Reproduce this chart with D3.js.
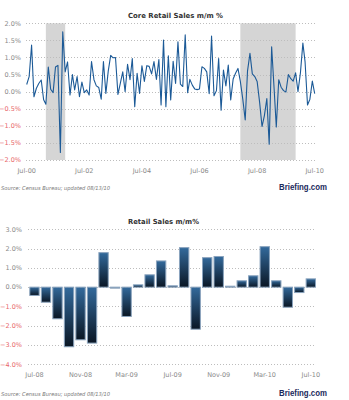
<!DOCTYPE html>
<html>
<head>
<meta charset="utf-8">
<script src="https://cdn.jsdelivr.net/npm/d3@7"></script>
<style>
	body { margin: 0; background: #fff; }
	svg { display: block; }
	.grid line { stroke: #bdbdbd; stroke-dasharray: 1,2; }
	.lbl { font-family: "DejaVu Sans", sans-serif; font-size: 6.5px; fill: #8a8a8a; }
	.neg { fill: #e8666a; }
	.title { font-family: "DejaVu Sans", sans-serif; font-size: 7px; font-weight: bold; fill: #333; }
	.src { font-family: "DejaVu Sans", sans-serif; font-size: 5.4px; font-style: italic; fill: #777; }
	.logo { font-family: "Liberation Sans", sans-serif; font-size: 9px; font-weight: bold; fill: #1b2a5c; }
</style>
</head>
<body>
<div id="chart"></div>
<script>
// core retail sales m/m %, monthly from Jul-00 to Jul-10
var coreStart = "2000-07";
var coreValues = [
	0.21, 0.44, 1.36, -0.15, 0.10, 0.24, 0.34, -0.24, -0.37, 0.72,
	0.07, -0.03, 0.72, 0.77, -1.78, 1.75, 0.58, 0.87, -0.10, 0.50,
	0.05, 0.44, -0.15, 0.28, -0.03, 0.05, -0.10, 0.88, 0.35, 0.17,
	0.12, -0.22, 0.88, -0.05, 0.60, 1.06, 0.99, 1.00, -0.08, 0.24,
	0.58, 0.00, 0.80, 0.35, 0.97, -0.44, 0.54, -0.05, 0.76, 0.30,
	0.76, 0.74, 0.52, 0.88, 0.36, 0.94, -0.39, 1.51, -0.44, 1.05,
	-0.24, 0.89, 0.24, 1.46, 0.22, 0.15, 1.66, -0.03, 0.36, 0.19,
	0.08, 0.06, 0.08, 0.73, 0.68, 0.58, -0.06, 1.63, -0.12, 0.03,
	0.97, -0.54, 0.63, 0.17, 0.78, -0.24, 0.37, 0.54, 0.68, 0.30,
	-0.22, -0.83, 0.60, 1.12, 0.52, 0.44, 0.30, -0.30, -1.02, -0.70,
	-0.20, -1.54, 1.31, 0.10, -1.03, 0.35, 0.13, 0.03, -0.01, 0.50,
	0.38, 0.31, 0.55, 0.00, 0.55, 1.42, 0.87, -0.39, -0.22, 0.31,
	-0.06
];
var recessions = [["2001-03", "2001-11"], ["2007-12", "2009-11"]];
var coreXTicks = ["Jul-00", "Jul-02", "Jul-04", "Jul-06", "Jul-08", "Jul-10"];
var coreYTicks = [2.0, 1.5, 1.0, 0.5, 0.0, -0.5, -1.0, -1.5, -2.0];

// retail sales m/m %
var salesMonths = ["Jul-08", "Aug-08", "Sep-08", "Oct-08", "Nov-08", "Dec-08",
	"Jan-09", "Feb-09", "Mar-09", "Apr-09", "May-09", "Jun-09", "Jul-09",
	"Aug-09", "Sep-09", "Oct-09", "Nov-09", "Dec-09", "Jan-10", "Feb-10",
	"Mar-10", "Apr-10", "May-10", "Jun-10", "Jul-10"];
var salesValues = [-0.43, -0.78, -1.64, -3.09, -2.73, -2.90, 1.79, -0.05, -1.52,
	0.12, 0.64, 1.36, 0.07, 2.05, -2.18, 1.53, 1.59, 0.05, 0.33, 0.59, 2.10,
	0.33, -1.04, -0.28, 0.43];
var salesXTicks = ["Jul-08", "Nov-08", "Mar-09", "Jul-09", "Nov-09", "Mar-10", "Jul-10"];
var salesYTicks = [3.0, 2.0, 1.0, 0.0, -1.0, -2.0, -3.0, -4.0];

var W = 349, H = 400;
var parseM = d3.timeParse("%Y-%m");
var parseLbl = d3.timeParse("%b-%y");

var svg = d3.select("#chart").append("svg")
	.attr("width", W)
	.attr("height", H);

var defs = svg.append("defs");
var grad = defs.append("linearGradient")
	.attr("id", "barGrad")
	.attr("x1", 0).attr("y1", 0).attr("x2", 0).attr("y2", 1);
grad.append("stop").attr("offset", "0%").attr("stop-color", "#336a9c");
grad.append("stop").attr("offset", "100%").attr("stop-color", "#0a1624");


function yLabels(g, y, ticks, x) {
	g.selectAll(".ylbl")
		.data(ticks)
		.enter().append("text")
		.attr("class", (d) => d < 0 ? "lbl neg" : "lbl")
		.attr("x", x)
		.attr("y", (d) => y(d) + 2.3)
		.attr("text-anchor", "end")
		.text((d) => d3.format(".1f")(d) + "%");
}

function grid(g, y, ticks, x0, x1) {
	g.append("g").attr("class", "grid")
		.selectAll("line")
		.data(ticks)
		.enter().append("line")
		.attr("x1", x0).attr("x2", x1)
		.attr("y1", (d) => Math.round(y(d)) + 0.5)
		.attr("y2", (d) => Math.round(y(d)) + 0.5);
}

// title, source note and logo share one layout
function labels(g, title, titleW, top, foot) {
	g.append("text").attr("class", "title")
		.attr("x", 128).attr("y", top)
		.attr("textLength", titleW)
		.attr("lengthAdjust", "spacingAndGlyphs")
		.text(title);

	g.append("text").attr("class", "src")
		.attr("x", 1).attr("y", foot)
		.attr("textLength", 109)
		.attr("lengthAdjust", "spacingAndGlyphs")
		.text("Source: Census Bureau; updated 08/13/10");

	g.append("text").attr("class", "logo")
		.attr("x", 279).attr("y", foot)
		.attr("textLength", 48)
		.attr("lengthAdjust", "spacingAndGlyphs")
		.text("Briefing.com");
}


function drawCore() {
	var g = svg.append("g");
	var t0 = parseM(coreStart);
	var data = coreValues.map((v, i) => ({ date: d3.timeMonth.offset(t0, i), v: v }));

	var x = d3.scaleTime()
		.domain(d3.extent(data, (d) => d.date))
		.range([26.7, 314.7]);
	var y = d3.scaleLinear()
		.domain([-2, 2])
		.range([160, 23.3]);

	g.selectAll(".band")
		.data(recessions)
		.enter().append("rect")
		.attr("x", (d) => x(parseM(d[0])))
		.attr("width", (d) => x(parseM(d[1])) - x(parseM(d[0])))
		.attr("y", y(2))
		.attr("height", y(-2) - y(2))
		.attr("fill", "#d5d5d5");

	grid(g, y, coreYTicks, 26, 316);
	yLabels(g, y, coreYTicks, 21);

	var line = d3.line()
		.x((d) => x(d.date))
		.y((d) => y(d.v));

	g.append("path")
		.datum(data)
		.attr("d", line)
		.attr("fill", "none")
		.attr("stroke", "#1c5a97")
		.attr("stroke-width", 1.1)
		.attr("stroke-linejoin", "round");

	g.selectAll(".xlbl")
		.data(coreXTicks)
		.enter().append("text")
		.attr("class", "lbl")
		.attr("x", (d) => x(parseLbl(d)))
		.attr("y", 173)
		.attr("text-anchor", "middle")
		.text((d) => d);

	labels(g, "Core Retail Sales m/m %", 95, 18, 190);
}


function drawSales() {
	var g = svg.append("g");

	var x = d3.scaleBand()
		.domain(salesMonths)
		.range([29.3, 316])
		.paddingInner(0.1);
	var y = d3.scaleLinear()
		.domain([-4, 3])
		.range([364.3, 229.3]);

	grid(g, y, salesYTicks, 28, 316);
	yLabels(g, y, salesYTicks, 22);

	g.selectAll(".bar")
		.data(salesValues)
		.enter().append("rect")
		.attr("x", (d, i) => x(salesMonths[i]) + 0.5)
		.attr("width", x.bandwidth() - 1)
		.attr("y", (d) => y(Math.max(0, d)))
		.attr("height", (d) => Math.max(0.8, Math.abs(y(d) - y(0))))
		.attr("fill", "url(#barGrad)")
		.attr("stroke", "#8aa3bd")
		.attr("stroke-width", 1);

	g.selectAll(".xlbl")
		.data(salesXTicks)
		.enter().append("text")
		.attr("class", "lbl")
		.attr("x", (d) => x(d) + x.bandwidth() / 2)
		.attr("y", 377)
		.attr("text-anchor", "middle")
		.text((d) => d);

	labels(g, "Retail Sales m/m%", 71, 224, 396);
}


drawCore();
drawSales();
</script>
</body>
</html>
